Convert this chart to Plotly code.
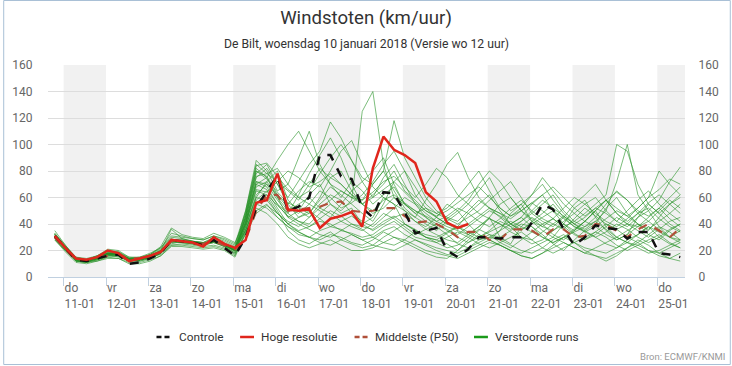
import pandas as pd
import plotly.graph_objects as go

# ---------------- data ----------------
start_time = "2018-01-10 19:00"
n_steps = 60  # 6-hourly steps up to +360h

controle = [31, 22, 13, 12, 14, 16, 17, 10, 11, 14, 18, 28, 27, 26, 24, 28, 22, 16, 30, 52,
            65, 76, 50, 53, 60, 92, 92, 76, 74, 52, 45, 64, 63, 49, 33, 35, 37, 20, 15, 21,
            30, 30, 29, 30, 30, 41, 55, 51, 36, 24, 30, 39, 37, 36, 29, 34, 34, 18, 17, 15]

hoge_resolutie = [31, 22, 14, 13, 15, 20, 18, 12, 14, 16, 19, 28, 27, 26, 23, 30, 25, 22, 28, 56,
                  58, 78, 51, 50, 51, 37, 44, 46, 49, 38, 82, 106, 96, 92, 86, 64, 57, 41, 37, 40]

middelste_p50 = [30, 21, 13, 13, 15, 16, 17, 14, 14, 16, 19, 27, 27, 26, 25, 27, 24, 21, 28, 50,
                 62, 62, 50, 51, 52, 53, 56, 57, 50, 49, 50, 52, 52, 46, 41, 42, 40, 36, 30, 34,
                 34, 28, 28, 36, 36, 35, 30, 36, 36, 30, 31, 40, 39, 35, 30, 36, 40, 35, 30, 37]

member_01 = [30, 21, 14, 12, 15, 18, 16, 12, 12, 14, 18, 26, 28, 27, 25, 28, 25, 22, 40, 70, 75, 60, 45, 50, 62, 70, 55, 48, 52, 40, 45, 60, 55, 40, 35, 30, 28, 25, 20, 28, 35, 45, 30, 25, 38, 45, 40, 32, 28, 35, 42, 50, 38, 30, 35, 40, 32, 28, 35, 40]
member_02 = [32, 23, 12, 11, 13, 16, 18, 14, 13, 16, 20, 29, 26, 25, 24, 27, 23, 19, 45, 78, 85, 70, 55, 45, 48, 60, 75, 80, 65, 55, 48, 52, 60, 50, 42, 38, 45, 55, 50, 40, 32, 28, 35, 48, 55, 42, 35, 30, 40, 52, 58, 45, 35, 28, 32, 45, 50, 38, 30, 28]
member_03 = [29, 20, 13, 13, 14, 17, 15, 12, 14, 15, 18, 25, 27, 26, 26, 26, 24, 21, 35, 55, 60, 48, 42, 38, 45, 52, 48, 42, 38, 35, 40, 48, 44, 38, 32, 36, 40, 35, 30, 26, 30, 35, 42, 38, 30, 25, 28, 35, 40, 33, 28, 32, 38, 45, 40, 35, 30, 36, 42, 45]
member_04 = [33, 24, 15, 13, 16, 20, 19, 15, 14, 17, 22, 33, 31, 29, 28, 31, 29, 25, 50, 88, 80, 65, 70, 90, 110, 85, 70, 60, 72, 65, 55, 62, 68, 55, 48, 52, 45, 40, 38, 48, 55, 62, 50, 40, 35, 42, 48, 55, 45, 38, 35, 40, 52, 60, 48, 40, 35, 45, 55, 60]
member_05 = [31, 21, 13, 12, 13, 16, 17, 12, 13, 14, 18, 27, 26, 25, 24, 26, 23, 18, 38, 60, 72, 80, 58, 50, 45, 55, 62, 58, 48, 42, 38, 45, 52, 60, 55, 45, 38, 32, 25, 22, 28, 32, 30, 35, 40, 38, 32, 25, 20, 28, 35, 30, 25, 22, 28, 32, 38, 30, 25, 22]
member_06 = [30, 22, 12, 11, 14, 17, 16, 14, 14, 16, 20, 28, 27, 26, 25, 27, 24, 20, 42, 72, 68, 55, 48, 62, 78, 92, 105, 90, 70, 55, 60, 75, 85, 70, 55, 48, 42, 38, 35, 32, 38, 45, 55, 60, 50, 42, 38, 35, 42, 48, 55, 60, 50, 42, 38, 45, 55, 48, 40, 35]
member_07 = [31, 22, 13, 12, 14, 18, 17, 13, 13, 15, 19, 27, 27, 26, 25, 27, 24, 20, 36, 58, 65, 52, 40, 35, 38, 42, 40, 35, 33, 30, 32, 38, 42, 36, 30, 28, 26, 30, 34, 30, 25, 22, 26, 30, 34, 28, 22, 18, 22, 26, 30, 34, 30, 24, 20, 24, 28, 32, 26, 22]
member_08 = [32, 23, 14, 13, 15, 18, 18, 14, 13, 15, 19, 28, 27, 26, 25, 28, 25, 21, 48, 82, 75, 88, 100, 110, 95, 80, 70, 65, 60, 58, 70, 80, 65, 52, 45, 58, 70, 85, 94, 75, 60, 52, 48, 40, 45, 55, 62, 50, 40, 35, 42, 50, 58, 48, 40, 38, 45, 52, 44, 38]
member_09 = [28, 20, 12, 11, 13, 15, 16, 12, 13, 15, 17, 24, 25, 24, 23, 24, 22, 17, 33, 50, 55, 45, 38, 32, 30, 35, 38, 36, 32, 28, 30, 35, 38, 32, 28, 25, 22, 20, 18, 22, 26, 30, 28, 24, 20, 18, 22, 28, 32, 26, 22, 20, 18, 22, 26, 24, 20, 18, 22, 26]
member_10 = [35, 24, 14, 13, 15, 18, 19, 14, 15, 17, 23, 37, 32, 30, 29, 33, 30, 26, 44, 75, 82, 70, 60, 72, 85, 95, 117, 105, 88, 75, 70, 80, 118, 90, 75, 60, 50, 45, 42, 50, 58, 52, 45, 38, 42, 48, 55, 62, 50, 42, 38, 45, 55, 65, 58, 48, 42, 50, 58, 52]
member_11 = [30, 22, 14, 13, 15, 18, 17, 13, 13, 15, 18, 27, 27, 26, 25, 27, 24, 20, 40, 65, 62, 50, 35, 28, 25, 30, 34, 28, 25, 22, 24, 30, 35, 40, 36, 30, 28, 33, 38, 32, 28, 30, 35, 40, 45, 38, 30, 26, 30, 36, 42, 38, 32, 28, 32, 38, 42, 36, 30, 26]
member_12 = [31, 22, 13, 12, 14, 17, 18, 14, 14, 16, 19, 27, 26, 26, 25, 27, 24, 20, 38, 62, 70, 62, 52, 48, 55, 65, 60, 52, 56, 62, 72, 85, 95, 80, 62, 52, 48, 44, 40, 45, 50, 58, 65, 72, 60, 48, 42, 38, 45, 55, 62, 70, 58, 48, 42, 48, 56, 62, 55, 48]
member_13 = [28, 19, 11, 10, 12, 14, 14, 10, 10, 12, 16, 23, 23, 22, 21, 22, 20, 15, 34, 52, 48, 40, 30, 25, 22, 25, 28, 24, 20, 20, 22, 26, 30, 28, 24, 20, 18, 16, 14, 18, 22, 26, 24, 20, 16, 14, 18, 22, 26, 22, 18, 16, 14, 18, 22, 26, 20, 16, 14, 18]
member_14 = [32, 22, 13, 12, 14, 17, 17, 13, 13, 16, 20, 28, 28, 27, 26, 27, 25, 21, 46, 80, 76, 62, 55, 65, 72, 68, 80, 95, 103, 85, 68, 60, 55, 50, 45, 40, 35, 42, 48, 55, 65, 75, 60, 50, 55, 62, 70, 58, 48, 40, 45, 52, 48, 42, 50, 58, 65, 55, 48, 42]
member_15 = [31, 22, 14, 12, 14, 17, 17, 13, 13, 15, 19, 27, 27, 26, 25, 27, 24, 20, 40, 68, 72, 60, 50, 55, 60, 52, 58, 65, 60, 55, 62, 70, 80, 65, 58, 50, 45, 40, 36, 40, 46, 52, 48, 44, 50, 56, 50, 44, 38, 42, 48, 55, 62, 100, 95, 70, 55, 48, 55, 62]
member_16 = [30, 22, 13, 12, 14, 17, 16, 13, 13, 15, 18, 27, 27, 26, 25, 27, 24, 20, 42, 72, 70, 58, 48, 42, 40, 48, 55, 50, 58, 125, 140, 85, 60, 55, 50, 45, 40, 36, 32, 38, 44, 50, 46, 40, 36, 40, 45, 50, 44, 38, 34, 38, 44, 50, 46, 40, 36, 42, 48, 55]
member_17 = [33, 23, 14, 12, 15, 18, 18, 13, 14, 16, 20, 36, 29, 27, 26, 29, 26, 22, 50, 85, 78, 72, 65, 58, 70, 82, 75, 70, 62, 58, 64, 72, 76, 68, 60, 70, 82, 75, 62, 55, 48, 44, 40, 36, 42, 50, 58, 52, 46, 40, 36, 42, 50, 72, 100, 62, 50, 58, 72, 83]
member_18 = [29, 20, 12, 11, 12, 15, 14, 11, 11, 13, 16, 24, 24, 23, 22, 23, 21, 16, 36, 55, 52, 45, 38, 34, 30, 28, 32, 30, 26, 24, 28, 34, 30, 26, 22, 18, 15, 14, 20, 26, 32, 28, 24, 20, 16, 14, 18, 24, 30, 26, 20, 16, 12, 16, 22, 28, 24, 18, 14, 12]
member_19 = [30, 21, 13, 12, 14, 18, 17, 13, 13, 15, 19, 28, 27, 26, 25, 27, 24, 20, 44, 76, 78, 82, 70, 60, 55, 50, 45, 55, 65, 72, 80, 90, 70, 55, 48, 42, 38, 44, 50, 58, 70, 80, 72, 60, 50, 44, 38, 44, 52, 60, 55, 48, 42, 38, 44, 52, 60, 66, 74, 70]
member_20 = [32, 22, 13, 12, 14, 17, 17, 13, 13, 15, 19, 27, 27, 26, 25, 27, 24, 20, 38, 60, 58, 48, 40, 45, 50, 44, 38, 42, 46, 40, 35, 40, 45, 48, 42, 36, 32, 28, 26, 32, 38, 44, 40, 34, 30, 28, 34, 40, 46, 40, 34, 30, 34, 40, 36, 30, 26, 30, 36, 40]
member_21 = [31, 22, 15, 14, 16, 19, 17, 14, 14, 17, 21, 30, 29, 27, 26, 30, 27, 23, 40, 66, 64, 72, 80, 75, 68, 72, 78, 70, 62, 55, 50, 58, 62, 56, 50, 46, 42, 46, 52, 48, 42, 38, 44, 52, 58, 50, 44, 40, 36, 44, 52, 46, 40, 36, 40, 48, 52, 44, 38, 34]
member_22 = [31, 23, 13, 12, 14, 17, 17, 13, 13, 15, 19, 27, 27, 26, 25, 27, 24, 20, 42, 70, 66, 55, 45, 40, 36, 32, 30, 35, 40, 36, 30, 26, 24, 28, 34, 30, 26, 22, 24, 30, 36, 32, 26, 22, 28, 34, 40, 44, 38, 32, 28, 34, 40, 36, 30, 26, 32, 38, 34, 28]
member_23 = [30, 22, 13, 12, 14, 17, 17, 13, 13, 15, 19, 27, 27, 26, 25, 27, 24, 20, 46, 80, 74, 64, 56, 52, 48, 58, 68, 62, 55, 48, 42, 55, 72, 80, 68, 55, 48, 52, 60, 70, 80, 65, 52, 46, 52, 62, 75, 65, 55, 48, 42, 50, 58, 52, 46, 52, 60, 80, 70, 62]
member_24 = [31, 22, 13, 12, 14, 17, 17, 13, 13, 15, 19, 27, 27, 26, 25, 27, 24, 20, 35, 56, 62, 54, 46, 42, 38, 44, 50, 46, 40, 38, 36, 42, 46, 40, 35, 32, 30, 34, 38, 34, 30, 34, 38, 42, 38, 34, 30, 26, 30, 34, 38, 42, 36, 30, 26, 32, 38, 34, 30, 35]
member_25 = [32, 23, 14, 13, 16, 21, 20, 15, 15, 18, 22, 31, 30, 29, 28, 31, 28, 24, 48, 84, 86, 76, 66, 60, 65, 78, 90, 100, 88, 72, 60, 66, 72, 64, 56, 50, 46, 50, 56, 62, 68, 60, 52, 46, 50, 56, 62, 68, 60, 52, 46, 52, 58, 64, 58, 50, 46, 52, 60, 68]
member_26 = [30, 21, 13, 12, 14, 16, 16, 12, 12, 14, 18, 26, 26, 25, 24, 26, 23, 18, 32, 48, 54, 48, 40, 34, 30, 26, 24, 28, 32, 28, 24, 22, 20, 24, 28, 24, 20, 17, 16, 20, 24, 28, 24, 20, 18, 22, 26, 30, 26, 22, 18, 22, 26, 30, 26, 22, 18, 20, 24, 28]

members = [member_01, member_02, member_03, member_04, member_05, member_06, member_07,
           member_08, member_09, member_10, member_11, member_12, member_13, member_14,
           member_15, member_16, member_17, member_18, member_19, member_20, member_21,
           member_22, member_23, member_24, member_25, member_26]

day_dates = ["2018-01-%02d" % d for d in range(11, 26)]
day_names = ["do", "vr", "za", "zo", "ma", "di", "wo", "do", "vr", "za", "zo", "ma", "di", "wo", "do"]
day_labels = ["11-01", "12-01", "13-01", "14-01", "15-01", "16-01", "17-01", "18-01",
              "19-01", "20-01", "21-01", "22-01", "23-01", "24-01", "25-01"]
shaded_days = ["2018-01-11", "2018-01-13", "2018-01-15", "2018-01-17",
               "2018-01-19", "2018-01-21", "2018-01-23", "2018-01-25"]
y_ticks = [0, 20, 40, 60, 80, 100, 120, 140, 160]

legend_names = ["Controle", "Hoge resolutie", "Middelste (P50)", "Verstoorde runs"]

# ---------------- styles ----------------
FONT = "Roboto"
GREEN = "rgba(36,145,36,0.6)"
C_CTRL, C_HRES, C_P50, C_RUNS = "#111111", "#e0261c", "#b0503a", "#1a9a1a"
legend_colors = [C_CTRL, C_HRES, C_P50, C_RUNS]
legend_dashes = ["5px,3px", "solid", "5px,3px", "solid"]
legend_sym_x = [154, 238, 353, 473]   # pixel x of symbol start
legend_txt_x = [175, 257, 372, 492]   # pixel x of label start
LEG_Y = 337

W, H = 732, 366
L, R, T, B = 45, 47, 65, 89
pw, ph = W - L - R, H - T - B


def px(xpix):
    return (xpix - L) / pw


def py(ypix):
    return (T + ph - ypix) / ph


times = pd.date_range(start_time, periods=n_steps, freq="6h")

fig = go.Figure()
for m in members:
    fig.add_trace(go.Scatter(x=times, y=m, mode="lines", line=dict(color=GREEN, width=1),
                             showlegend=False, hoverinfo="skip"))

fig.add_trace(go.Scatter(x=times, y=middelste_p50, mode="lines", name=legend_names[2],
                         line=dict(color=C_P50, width=2.2, dash="dash"), showlegend=False))
fig.add_trace(go.Scatter(x=times, y=controle, mode="lines", name=legend_names[0],
                         line=dict(color=C_CTRL, width=2.5, dash="dash"), showlegend=False))
fig.add_trace(go.Scatter(x=times[:len(hoge_resolutie)], y=hoge_resolutie, mode="lines",
                         name=legend_names[1], line=dict(color=C_HRES, width=2.5),
                         showlegend=False))
# invisible trace to activate the right axis
fig.add_trace(go.Scatter(x=[times[0]], y=[0], yaxis="y2", mode="markers",
                         marker=dict(opacity=0), showlegend=False, hoverinfo="skip"))

shapes = []
for d in shaded_days:
    d_end = (pd.Timestamp(d) + pd.Timedelta(days=1)).strftime("%Y-%m-%d")
    shapes.append(dict(type="rect", xref="x", yref="paper", x0=d, x1=d_end, y0=0, y1=1,
                       fillcolor="#f1f1f1", line=dict(width=0), layer="below"))

# outer border of the chart
shapes.append(dict(type="rect", xref="paper", yref="paper",
                   x0=px(0.5), x1=px(W - 1.5), y0=py(H - 1.5), y1=py(0.5),
                   line=dict(color="#a9c0d6", width=1), fillcolor="rgba(0,0,0,0)",
                   layer="above"))

annotations = [
    dict(text="De Bilt, woensdag 10 januari 2018 (Versie wo 12 uur)", xref="paper",
         yref="paper", x=0.5, y=py(44), xanchor="center", yanchor="middle",
         showarrow=False, font=dict(family=FONT, size=12.2, color="#333333")),
    dict(text="Bron: ECMWF/KNMI", xref="paper", yref="paper",
         x=px(727), y=py(356), xanchor="right", yanchor="middle",
         showarrow=False, font=dict(family=FONT, size=9.5, color="#999999")),
]

# manual legend (short symbols like the original)
for name, col, dsh, sx, tx in zip(legend_names, legend_colors, legend_dashes,
                                   legend_sym_x, legend_txt_x):
    shapes.append(dict(type="line", xref="paper", yref="paper",
                       x0=px(sx), x1=px(sx + 14), y0=py(LEG_Y), y1=py(LEG_Y),
                       line=dict(color=col, width=2.5, dash=dsh)))
    annotations.append(dict(text=name, xref="paper", yref="paper", x=px(tx), y=py(LEG_Y),
                            xanchor="left", yanchor="middle", showarrow=False,
                            font=dict(family=FONT, size=11.8, color="#333333")))

fig.update_layout(
    width=W, height=H,
    margin=dict(l=L, r=R, t=T, b=B),
    paper_bgcolor="white", plot_bgcolor="white",
    font=dict(family=FONT, size=12, color="#666666"),
    title=dict(text="Windstoten (km/uur)", x=0.5, xanchor="center", y=1 - 17 / H,
               yanchor="middle", font=dict(family=FONT, size=18.6, color="#333333")),
    shapes=shapes,
    annotations=annotations,
    showlegend=False,
    xaxis=dict(type="date", range=["2018-01-10 15:10", "2018-01-25 15:40"],
               tickvals=day_dates,
               ticktext=[f"{a}<br>{b}" for a, b in zip(day_names, day_labels)],
               ticklabelposition="outside right",
               ticks="outside", ticklen=8, tickcolor="#c0d0e0",
               showline=True, linecolor="#c0d0e0", linewidth=1,
               showgrid=False, zeroline=False,
               tickfont=dict(family=FONT, size=12, color="#666666")),
    yaxis=dict(range=[0, 160], tickvals=y_ticks, showgrid=True, gridcolor="#dddddd",
               gridwidth=1, zeroline=False, ticks="outside", ticklen=12,
               tickcolor="rgba(0,0,0,0)", tickfont=dict(family=FONT, size=12, color="#666666")),
    yaxis2=dict(range=[0, 160], tickvals=y_ticks, overlaying="y", side="right",
                showgrid=False, zeroline=False, ticks="outside", ticklen=10,
                tickcolor="rgba(0,0,0,0)", tickfont=dict(family=FONT, size=12, color="#666666")),
)

fig.write_html("out.html", config={"displayModeBar": False},
               post_script="document.body.style.margin='0px';")
